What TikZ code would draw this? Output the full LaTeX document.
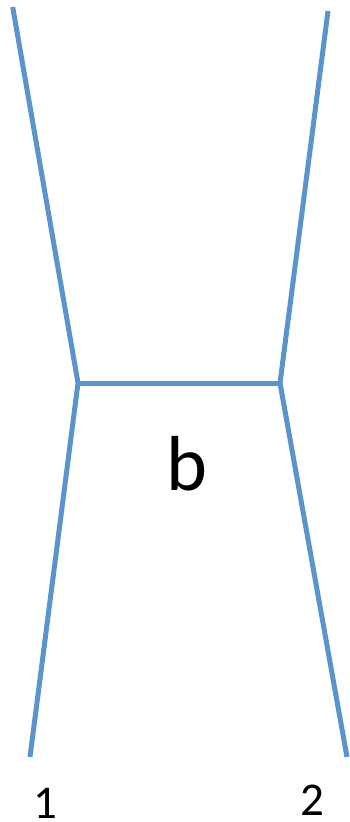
\documentclass[tikz,border=0pt]{standalone}
\usepackage{fontspec}
\setmainfont{Carlito}
\definecolor{lineblue}{RGB}{91,148,205}
\begin{document}
\begin{tikzpicture}[x=1pt,y=-1pt,
  leg/.style={draw=lineblue,line width=5pt},
  lbl/.style={inner sep=0pt,anchor=base,text=black,text depth=0pt}]
\useasboundingbox (0,0) rectangle (349,822);
\coordinate (tl) at (12.7,7);
\coordinate (tr) at (328,11);
\coordinate (vl) at (78,383);
\coordinate (vr) at (280,383);
\coordinate (bl) at (30,757);
\coordinate (br) at (347,757);
\draw[leg] (tl) -- (vl) -- (bl);
\draw[leg] (tr) -- (vr) -- (br);
\draw[leg] (vl) -- (vr);
\node[lbl,font=\fontsize{78}{80}\selectfont] (b) at (187,490) {b};
\node[lbl,font=\fontsize{47}{49}\selectfont] (one) at (45,818) {1};
\node[lbl,font=\fontsize{47}{49}\selectfont] (two) at (312,815) {2};
\end{tikzpicture}
\end{document}
